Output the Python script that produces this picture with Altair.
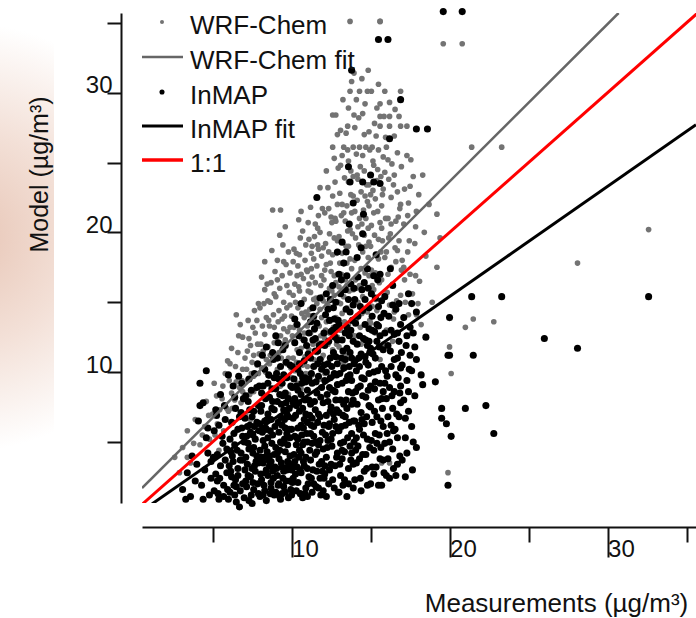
import altair as alt
import pandas as pd

# ---------------- data ----------------
# WRF-Chem points (measurement, model)
wrf_left = [(2.6,3.9),(2.9,2.8),(3.1,4.6),(3.4,5.8),(3.4,3.9),(3.6,3.5),(3.8,4.9),(3.9,6.6),
    (4.2,4.8),(4.5,6.1),(4.8,5.2),(5.0,7.0),(5.3,6.3),(5.6,8.1),(5.9,7.4),(4.6,7.9),(5.1,9.2),(5.4,4.4),(5.8,9.9),(4.9,3.6),(5.7,5.8),
    (6.0,7.2),(6.2,8.5),(6.3,6.4),(6.5,9.3),(6.6,11.4),(6.5,14.1),(6.2,11.7),(6.8,7.8),(6.9,10.2),(6.4,5.7),(6.7,8.9),(6.1,10.6),(6.9,12.5),
    (7.0,8.1),(7.2,9.4),(7.4,11.9),(7.5,10.7),(7.6,8.6),(7.7,12.8),(7.8,13.7),(7.9,14.9),(7.1,7.0),(7.3,12.4),(7.9,9.9),(7.6,11.2),(7.4,6.6),(7.8,10.5)]
wrf_left2 = [(4.35,5.5),(4.75,6.9),(5.15,5.5),(5.45,7.3),(5.65,9.0),(5.95,10.8),(5.25,8.3),
    (6.05,9.4),(6.25,7.4),(6.45,10.4),(6.65,12.6),(6.85,9.4),(7.05,11.0),(7.25,13.7),(7.45,9.9),(7.65,14.4),(7.85,12.0),(7.15,10.2),(7.55,13.2),(7.95,11.3),(6.75,13.4),(7.35,8.4)]
wrf_mid = [(8.0,9.0),(8.1,10.3),(8.2,11.5),(8.3,12.7),(8.4,13.9),(8.5,15.1),(8.3,17.9),(8.6,9.7),(8.7,16.4),(8.8,21.6),(8.9,12.1),(8.0,14.6),(8.2,8.4),(8.4,10.9),(8.6,13.3),(8.8,7.9),(8.9,15.6),(8.5,11.8),(8.1,16.8),
    (9.0,15.4),(9.3,21.6),(9.5,17.9),(9.6,20.4),(9.1,10.2),(9.2,11.4),(9.3,12.6),(9.4,13.8),(9.5,15.0),(9.6,9.6),(9.7,16.2),(9.8,11.0),(9.9,13.2),(9.0,8.9),(9.2,14.4),(9.4,16.9),(9.6,12.3),(9.8,18.6),(9.1,18.0),(9.7,10.6),(9.3,9.0),(9.9,14.8),(9.5,13.1),(9.8,8.4),
    (10.1,17.9),(10.6,21.5),(10.0,9.6),(10.1,11.0),(10.2,12.2),(10.3,13.4),(10.4,14.6),(10.5,15.8),(10.6,17.0),(10.7,10.5),(10.8,12.8),(10.9,19.1),(10.0,14.0),(10.2,16.3),(10.4,9.2),(10.6,11.7),(10.8,15.2),(10.3,18.5),(10.5,13.0),(10.7,20.1),(10.9,9.9),(10.1,15.5),(10.3,10.7),(10.9,14.3),(10.6,8.8),(10.4,17.6),
    (11.0,10.4),(11.1,11.6),(11.2,12.8),(11.3,14.0),(11.4,15.2),(11.5,16.4),(11.6,17.6),(11.7,18.8),(11.8,20.0),(11.9,11.0),(11.0,13.3),(11.2,15.7),(11.4,18.1),(11.6,12.2),(11.8,14.5),(11.1,19.5),(11.3,9.8),(11.5,13.6),(11.7,21.2),(11.9,16.9),(11.0,17.2),(11.4,10.9),(11.8,9.5),(11.6,14.9),(11.2,21.8),(11.9,18.3),(11.5,20.6),(11.3,16.8),(11.8,23.2)]
wrf_mid2 = [(8.05,12.0),(8.15,13.3),(8.25,14.9),(8.35,10.0),(8.45,16.3),(8.55,13.7),(8.65,11.2),(8.75,18.7),(8.85,14.1),(8.95,17.2),(9.05,12.5),(9.15,13.6),(9.25,16.0),(9.35,11.0),(9.45,19.1),(9.55,14.0),(9.65,17.7),(9.75,12.9),(9.85,15.7),(9.95,10.3),(9.25,19.8),(8.65,15.0),
    (10.05,12.6),(10.15,18.8),(10.25,15.0),(10.35,11.6),(10.45,16.1),(10.55,19.6),(10.65,14.2),(10.75,16.7),(10.85,11.1),(10.95,17.3),(11.05,15.8),(11.15,14.5),(11.25,18.5),(11.35,12.0),(11.45,19.7),(11.55,15.3),(11.65,20.3),(11.75,13.3),(11.85,16.2),(11.95,21.7),(11.05,20.7),(10.45,20.9)]
wrf_high = [(12.0,11.2),(12.1,12.4),(12.2,13.6),(12.3,14.8),(12.4,16.0),(12.5,17.2),(12.6,18.4),(12.7,19.6),(12.8,20.8),(12.9,22.0),(12.0,15.1),(12.2,17.7),(12.4,19.9),(12.6,11.6),(12.8,13.9),(12.1,21.4),(12.3,23.2),(12.5,10.4),(12.7,15.5),(12.9,17.0),(12.6,28.4),(12.8,28.4),(12.6,26.1),(12.0,18.9),(12.2,24.4),(12.8,16.4),(12.4,12.8),(12.6,22.6),(12.9,12.5),(12.1,9.9),(12.7,25.3),
    (13.0,11.8),(13.1,13.0),(13.2,14.2),(13.3,15.4),(13.4,16.6),(13.5,17.8),(13.6,19.0),(13.7,20.2),(13.8,21.4),(13.9,22.6),(13.0,16.1),(13.2,18.5),(13.4,20.8),(13.6,23.6),(13.8,12.7),(13.1,24.8),(13.3,26.1),(13.5,14.6),(13.7,30.1),(13.8,30.8),(13.7,35.1),(13.9,26.1),(13.0,19.7),(13.4,11.2),(13.6,25.1),(13.2,22.0),(13.8,17.4),(13.5,21.9),(13.1,27.3),(13.9,15.9),(13.3,10.6),(13.6,13.4),
    (14.0,12.6),(14.1,13.8),(14.2,15.0),(14.3,16.2),(14.4,17.4),(14.5,18.6),(14.6,19.8),(14.7,21.0),(14.8,22.2),(14.9,23.4),(14.0,18.0),(14.2,20.4),(14.4,22.9),(14.6,24.4),(14.8,14.3),(14.1,25.6),(14.3,26.1),(14.5,28.5),(14.3,30.1),(14.8,30.1),(14.7,26.1),(14.9,16.9),(14.0,21.5),(14.4,12.0),(14.6,27.0),(14.2,23.8),(14.9,19.3),(14.1,29.5),
    (15.0,13.5),(15.1,14.7),(15.2,15.9),(15.3,17.1),(15.4,18.3),(15.5,19.5),(15.6,20.7),(15.7,21.9),(15.8,23.1),(15.9,24.3),(15.0,19.0),(15.2,21.4),(15.4,23.7),(15.6,29.2),(15.6,28.3),(15.6,27.6),(15.6,35.1),(15.8,25.4),(15.1,26.1),(15.3,12.8),(15.5,25.9),(15.7,16.6),(15.9,18.2),(15.0,22.7),(15.4,14.4),(15.8,12.0),(15.2,24.8),(15.6,10.9)]
wrf_high2 = [(12.05,16.6),(12.15,19.2),(12.25,14.9),(12.35,21.7),(12.45,17.8),(12.55,20.7),(12.65,13.2),(12.75,23.6),(12.85,18.5),(12.95,15.0),(13.05,17.8),(13.15,21.2),(13.25,16.9),(13.35,23.9),(13.45,19.0),(13.55,25.9),(13.65,15.8),(13.75,22.7),(13.85,19.9),(13.95,28.4),(13.25,29.5),(13.55,27.6),(12.95,24.6),
    (14.05,16.6),(14.15,22.3),(14.25,19.1),(14.35,24.7),(14.45,14.2),(14.55,21.6),(14.65,17.1),(14.75,23.4),(14.85,20.3),(14.95,25.9),(15.05,17.3),(15.15,23.0),(15.25,19.8),(15.35,26.9),(15.45,21.5),(15.55,16.4),(15.65,24.0),(15.75,19.4),(15.85,28.3),(15.95,21.0),(14.45,31.0),(15.05,30.1),(14.65,29.2)]
wrf_band3 = [(9.1,16.6),(9.4,12.0),(9.7,14.6),(9.9,17.1),(10.2,10.1),(10.5,18.4),(10.8,13.9),(11.1,16.3),(11.3,19.0),(11.6,11.4),(11.9,13.9),(12.1,17.3),(12.3,12.0),(12.5,21.1),(12.7,16.9),(12.9,19.4),(13.1,14.9),(13.3,21.4),(13.5,16.2),(13.7,18.1),(13.9,24.0),(14.1,16.0),(14.3,21.0),(14.5,15.4),(14.7,19.0),(14.9,21.9),(15.1,16.2),(15.3,22.4),(15.5,18.1),(15.7,20.3),(15.9,15.5),(16.1,17.0),(16.3,20.6),(16.5,14.3),(16.7,18.7),(16.9,22.0),(17.1,17.5),(17.4,14.1),(8.6,10.6),(8.9,13.2),(8.3,15.9),(7.6,9.7),(7.2,11.5),(6.9,8.6),(6.4,8.0),(13.2,25.5),(14.0,27.5),(14.9,27.2),(15.4,28.9),(13.6,28.9),(16.0,26.1),(14.5,25.5),(12.9,27.0),(15.9,30.1)]
wrf_band4 = [(10.15,13.2),(10.35,16.9),(10.65,12.4),(10.85,18.0),(11.05,14.1),(11.25,17.4),(11.45,13.0),(11.65,19.1),(11.85,12.6),(11.95,15.4),(12.15,13.0),(12.35,18.6),(12.55,15.8),(12.75,21.0),(12.85,12.0),(13.05,22.8),(13.15,17.0),(13.35,13.6),(13.55,20.1),(13.75,24.4),(13.85,14.8),(14.05,19.6),(14.15,24.1),(14.35,13.2),(14.45,20.6),(14.65,22.6),(14.85,18.2),(14.95,13.7),(15.05,20.5),(15.15,25.1),(15.35,15.2),(15.45,24.5),(15.65,18.6),(15.75,22.7),(15.95,26.8),(16.15,19.6),(16.35,24.9),(16.45,13.8),(16.75,21.1),(16.95,17.3),(17.15,23.1),(17.35,18.6),(17.55,25.2),(17.65,15.6),(17.85,20.4),(18.05,22.7),(18.4,20.0),(18.0,14.9),(13.45,27.1),(14.25,28.2),(15.25,27.8),(16.55,28.8),(13.95,31.4),(14.85,31.6),(15.5,30.6)]
wrf_right = [(16.0,13.0),(16.2,14.8),(16.4,16.3),(16.6,17.9),(16.8,19.4),(16.1,21.0),(16.3,22.5),(16.5,24.1),(16.7,25.7),(16.2,29.3),(16.2,28.3),(16.2,27.6),(16.9,30.1),(16.8,28.3),(16.9,27.6),(16.0,18.6),(16.6,20.8),(16.4,12.2),(16.9,15.5),(16.1,25.2),(16.7,22.9),(16.5,26.9),(16.3,17.5),
    (16.05,15.7),(16.25,19.9),(16.45,23.4),(16.65,15.1),(16.85,21.7),(16.15,23.8),(16.55,18.9),(16.95,24.7),(17.15,16.6),(17.45,19.4),(17.85,16.9),(17.35,21.2),
    (17.3,27.6),(17.2,15.0),(17.5,17.0),(17.8,19.2),(17.1,20.6),(17.4,22.1),(17.7,24.0),(17.9,14.1),(17.6,12.8),(17.0,18.0),(17.3,25.5),(17.9,21.5),(17.5,23.3),
    (18.3,24.1),(18.7,22.0),(19.2,21.3),(18.5,18.3),(18.1,16.5),(18.9,15.0),(19.4,19.6),(18.2,13.4),(19.2,17.5),
    (21.0,13.2),(21.5,13.8),(22.8,13.6),(20.0,11.8),(20.1,9.9),(19.9,2.8),(15.7,3.5),(16.2,3.5)]
wrf_outliers = [(19.6,33.5),(20.8,33.5),(21.4,26.1),(23.3,26.1),(28.1,17.8),(32.6,20.2),(15.6,35.1)]

# InMAP points (measurement, model)
inmap_left = [(3.1,1.6),(3.4,2.8),(3.6,1.1),(3.7,4.0),(3.9,2.2),(4.0,3.4),(3.3,0.9),
    (4.1,6.5),(4.2,7.6),(4.4,7.8),(4.2,9.2),(4.6,10.1),(4.3,1.9),(4.5,3.0),(4.7,4.2),(4.8,1.2),(4.6,5.3),(4.9,2.4),(4.4,0.9),(4.9,3.6),(4.7,6.0),
    (5.1,1.5),(5.2,2.7),(5.3,4.1),(5.4,0.9),(5.5,3.3),(5.6,5.4),(5.7,1.9),(5.8,6.6),(5.9,2.8),(5.2,7.3),(5.5,8.4),(6.0,9.8),(5.9,4.5),(5.1,5.8),(5.7,1.1),(5.4,6.2),(5.8,3.7),(5.3,2.2),
    (6.1,1.4),(6.2,2.5),(6.3,3.6),(6.4,4.8),(6.5,0.7),(6.6,5.9),(6.7,0.35),(6.8,7.1),(6.9,2.0),(6.2,6.4),(6.4,8.2),(6.6,3.1),(6.8,4.2),(6.1,5.2),(6.5,1.8),(6.7,6.8),(6.3,9.0),(6.9,3.7),(6.0,0.9),(6.6,2.6),(6.9,5.4),(6.4,1.2),
    (7.0,1.0),(7.1,2.2),(7.2,3.4),(7.3,4.5),(7.4,5.7),(7.5,6.8),(7.6,1.6),(7.7,2.9),(7.8,4.0),(7.9,7.6),(7.1,8.3),(7.3,0.8),(7.5,3.1),(7.7,5.2),(7.9,1.3),(7.2,6.1),(7.4,2.5),(7.6,4.6),(7.8,8.9),(7.0,5.0),(7.3,9.5),(7.9,3.5),(7.5,0.6),(7.6,7.2),(7.1,3.9),(7.8,6.4)]
inmap_left2 = [(5.05,3.9),(5.35,1.3),(5.65,4.9),(5.95,1.6),(5.25,6.9),(5.75,7.6),(5.45,2.4),
    (6.05,3.3),(6.25,4.0),(6.35,1.9),(6.45,7.4),(6.55,4.4),(6.75,1.5),(6.85,6.0),(6.95,8.1),(6.15,2.9),(6.65,9.7),(6.35,5.6),
    (7.05,6.7),(7.15,1.8),(7.25,4.9),(7.35,7.3),(7.45,1.2),(7.55,4.2),(7.65,9.9),(7.75,3.6),(7.85,2.0),(7.95,5.8),(7.25,2.6),(7.45,8.7),(7.65,6.1),(7.85,10.6),(7.15,5.4),(7.55,2.1)]
inmap_mid = [(8.0,1.1),(8.1,2.3),(8.2,3.5),(8.3,4.7),(8.4,5.9),(8.5,7.0),(8.6,8.2),(8.7,1.7),(8.8,2.9),(8.9,4.1),(8.0,6.3),(8.2,9.0),(8.4,0.8),(8.6,3.3),(8.8,5.5),(8.1,7.6),(8.3,1.5),(8.5,2.6),(8.7,6.6),(8.9,9.6),(8.0,4.4),(8.2,5.1),(8.4,3.0),(8.6,4.0),(8.8,7.9),(8.9,1.2),(8.3,10.2),(8.5,5.3),(8.7,2.1),(8.1,8.5),
    (9.0,1.4),(9.1,2.6),(9.2,3.8),(9.3,5.0),(9.4,6.2),(9.5,7.3),(9.6,8.5),(9.7,9.6),(9.8,1.0),(9.9,2.2),(9.0,4.6),(9.2,5.7),(9.4,3.2),(9.6,4.3),(9.8,6.8),(9.1,7.9),(9.3,10.4),(9.5,1.8),(9.7,3.0),(9.9,5.3),(9.0,8.8),(9.2,2.0),(9.4,4.9),(9.6,6.0),(9.8,8.1),(9.1,11.0),(9.3,0.9),(9.5,2.9),(9.7,7.0),(9.9,4.0),(9.4,9.2),(9.6,1.4),
    (10.0,1.2),(10.1,2.4),(10.2,3.6),(10.3,4.8),(10.4,6.0),(10.5,7.2),(10.6,8.4),(10.7,9.6),(10.8,10.8),(10.9,1.7),(10.0,3.0),(10.2,5.4),(10.4,2.1),(10.6,4.2),(10.8,6.6),(10.1,7.8),(10.3,9.0),(10.5,11.4),(10.7,1.0),(10.9,3.9),(10.0,5.9),(10.2,8.1),(10.4,10.2),(10.6,2.8),(10.8,5.0),(10.1,6.7),(10.3,1.5),(10.5,4.4),(10.7,7.4),(10.9,9.3),(10.2,12.1),(10.6,6.2),(10.8,3.3),(10.4,8.7),
    (11.0,1.1),(11.1,2.5),(11.2,3.7),(11.3,4.9),(11.4,6.1),(11.5,7.3),(11.6,8.5),(11.7,9.7),(11.8,10.9),(11.9,12.0),(11.0,3.1),(11.2,5.6),(11.4,2.0),(11.6,4.3),(11.8,6.8),(11.1,8.0),(11.3,9.2),(11.5,11.5),(11.7,1.7),(11.9,3.6),(11.0,6.4),(11.2,7.7),(11.4,10.4),(11.6,2.9),(11.8,5.1),(11.1,12.8),(11.3,1.4),(11.5,4.1),(11.7,7.0),(11.9,8.9),(11.6,22.5),(11.2,13.6),(11.4,5.4),(11.8,2.4)]
inmap_mid2 = [(8.05,2.7),(8.15,5.7),(8.25,1.9),(8.35,8.1),(8.45,4.3),(8.55,9.8),(8.65,1.3),(8.75,4.9),(8.85,10.9),(8.95,3.2),(8.05,7.2),(8.25,3.9),(8.45,6.6),(8.65,5.8),(8.85,2.4),(8.15,11.2),(8.35,2.8),(8.55,3.7),(8.75,8.8),(8.95,6.1),
    (9.05,3.1),(9.15,6.4),(9.25,1.1),(9.35,7.7),(9.45,2.4),(9.55,5.2),(9.65,10.7),(9.75,3.6),(9.85,7.4),(9.95,1.6),(9.05,9.9),(9.25,4.4),(9.45,8.3),(9.65,2.2),(9.85,5.9),(9.15,12.1),(9.35,3.5),(9.55,6.6),(9.75,4.8),(9.95,9.0),(9.45,11.6),(9.15,1.9),
    (10.05,2.1),(10.15,4.1),(10.25,6.9),(10.35,3.2),(10.45,7.8),(10.55,1.3),(10.65,5.5),(10.75,3.6),(10.85,8.0),(10.95,5.6),(10.05,10.4),(10.25,2.7),(10.45,12.6),(10.65,9.2),(10.85,1.3),(10.15,9.5),(10.35,5.3),(10.55,3.0),(10.75,6.0),(10.95,11.9),(10.55,9.9),(10.35,13.4),
    (11.05,2.0),(11.15,4.4),(11.25,9.9),(11.35,3.0),(11.45,7.9),(11.55,1.8),(11.65,6.4),(11.75,3.4),(11.85,8.2),(11.95,5.7),(11.05,11.3),(11.25,2.4),(11.45,13.1),(11.65,10.6),(11.85,1.2),(11.15,6.9),(11.35,12.3),(11.55,5.0),(11.75,11.9),(11.95,2.9),(11.55,9.3),(11.35,14.6)]
inmap_high = [(12.0,1.5),(12.1,2.7),(12.2,3.9),(12.3,5.1),(12.4,6.3),(12.5,7.5),(12.6,8.7),(12.7,9.9),(12.8,11.1),(12.9,12.3),(12.0,4.5),(12.2,6.9),(12.4,3.0),(12.6,5.6),(12.8,8.0),(12.1,9.4),(12.3,10.6),(12.5,12.9),(12.7,1.7),(12.9,4.2),(12.0,7.8),(12.2,10.0),(12.4,13.7),(12.6,2.3),(12.8,6.1),(12.1,11.9),(12.3,14.5),(12.5,3.4),(12.7,6.6),(12.9,9.1),(12.6,16.2),(12.2,1.1),(12.8,13.2),
    (13.0,1.4),(13.1,2.6),(13.2,3.8),(13.3,5.0),(13.4,6.2),(13.5,7.4),(13.6,8.6),(13.7,9.8),(13.8,11.0),(13.9,12.2),(13.0,13.4),(13.2,4.4),(13.4,6.8),(13.6,3.1),(13.8,5.6),(13.1,8.0),(13.3,10.3),(13.5,11.7),(13.7,14.3),(13.9,1.7),(13.0,7.1),(13.2,9.2),(13.4,12.8),(13.6,2.0),(13.8,7.7),(13.1,15.6),(13.3,17.8),(13.5,1.1),(13.7,4.7),(13.9,3.4),(13.9,22.1),(13.9,6.5),(13.4,10.9),(13.8,9.4),(13.2,19.3),
    (14.0,2.3),(14.1,3.5),(14.2,4.7),(14.3,5.9),(14.4,7.1),(14.5,8.3),(14.6,9.5),(14.7,10.7),(14.8,11.9),(14.9,13.1),(14.0,6.5),(14.2,8.9),(14.4,11.3),(14.6,2.9),(14.8,5.2),(14.1,10.1),(14.3,12.6),(14.5,14.4),(14.7,4.1),(14.9,7.6),(14.0,15.2),(14.5,19.9),(14.2,16.8),(14.8,1.9),(14.4,1.5),(14.6,6.3),(14.9,9.9),(14.3,3.8),(14.7,12.3),
    (15.0,2.0),(15.1,3.2),(15.2,4.4),(15.3,5.6),(15.4,6.8),(15.5,8.0),(15.6,9.2),(15.7,10.4),(15.8,11.6),(15.9,12.8),(15.0,7.5),(15.2,10.0),(15.4,12.2),(15.6,3.8),(15.8,6.1),(15.1,14.0),(15.3,15.3),(15.5,1.9),(15.7,1.9),(15.9,4.9),(15.0,9.0),(15.4,13.4),(15.6,17.0),(15.2,2.7),(15.8,8.6)]
inmap_high2 = [(12.05,2.4),(12.15,5.5),(12.25,8.4),(12.35,2.0),(12.45,9.6),(12.55,4.7),(12.65,11.4),(12.75,3.3),(12.85,7.3),(12.95,1.4),(12.05,12.8),(12.25,4.6),(12.45,11.0),(12.65,7.0),(12.85,3.9),(12.15,14.1),(12.35,6.1),(12.55,10.4),(12.75,12.5),(12.95,5.8),(12.45,15.2),(12.75,8.6),
    (13.05,3.4),(13.15,6.1),(13.25,11.5),(13.35,2.3),(13.45,8.0),(13.55,5.3),(13.65,12.6),(13.75,3.7),(13.85,8.5),(13.95,10.6),(13.05,9.9),(13.25,1.9),(13.45,14.5),(13.65,6.4),(13.85,13.7),(13.15,11.0),(13.35,4.3),(13.55,9.7),(13.75,16.3),(13.95,5.0),(13.45,18.6),(13.65,20.6),
    (14.05,4.4),(14.15,7.7),(14.25,11.0),(14.35,2.4),(14.45,9.6),(14.55,5.5),(14.65,13.4),(14.75,3.1),(14.85,8.7),(14.95,4.6),(14.05,13.5),(14.25,6.2),(14.45,15.9),(14.65,11.1),(14.85,16.0),(14.15,18.2),(14.35,9.0),(14.55,12.4),(14.75,6.8),(14.95,11.4),(14.55,21.3),
    (15.05,5.1),(15.15,11.3),(15.25,7.2),(15.35,3.2),(15.45,10.1),(15.55,5.5),(15.65,13.9),(15.75,7.4),(15.85,2.8),(15.95,10.1),(15.05,15.6),(15.25,12.9),(15.45,16.6),(15.65,4.6),(15.85,14.2),(15.35,18.4),(15.55,11.8)]
inmap_core3 = [(6.15,4.3),(6.45,2.3),(6.75,3.7),(7.05,3.0),(7.35,6.2),(7.65,3.3),(7.95,9.0),(7.25,7.9),(6.85,9.2),(7.55,5.5),
    (8.1,3.9),(8.3,6.5),(8.5,9.2),(8.7,3.6),(8.9,7.3),(9.1,4.2),(9.3,6.8),(9.5,9.8),(9.7,5.6),(9.9,10.5),(8.2,1.2),(8.8,11.4),(9.4,1.3),(9.0,12.6),(9.6,11.9),(8.4,11.8),(9.2,9.5),(9.8,3.3),
    (10.1,3.4),(10.3,7.6),(10.5,10.6),(10.7,4.8),(10.9,7.0),(11.1,9.5),(11.3,6.7),(11.5,12.4),(11.7,4.8),(11.9,10.2),(10.2,13.8),(10.8,12.3),(11.4,14.0),(11.0,5.0),(11.6,13.5),(10.6,14.9),(11.2,11.0),(11.8,15.3),(10.4,5.2),(11.0,8.7),
    (12.1,3.3),(12.3,7.9),(12.5,5.2),(12.7,13.8),(12.9,10.6),(13.1,4.9),(13.3,7.7),(13.5,13.2),(13.7,11.4),(13.9,8.0),(12.2,15.6),(12.8,15.0),(13.4,15.9),(13.0,17.0),(13.6,15.2),(12.4,8.9),(13.2,12.3),(13.8,4.2),(12.6,13.0),(13.0,5.8),(13.9,14.8),(12.9,18.6),(13.5,16.9),
    (14.1,5.3),(14.3,10.4),(14.5,4.1),(14.7,8.2),(14.9,14.6),(15.1,6.4),(15.3,9.3),(15.5,14.7),(15.7,8.1),(15.9,15.4),(14.2,14.0),(14.8,17.4),(15.4,4.9),(15.0,11.7),(15.6,12.6),(14.4,18.9),(15.2,16.9),(15.8,3.7),(14.6,16.4),(14.0,10.8),
    (16.1,6.8),(16.3,13.0),(16.5,10.9),(16.7,5.3),(16.9,7.8),(16.2,8.9),(16.8,14.9),(17.0,10.5),(17.4,8.6),(17.8,11.8),(16.6,2.6),(17.2,6.7)]
inmap_core4 = [(12.05,10.5),(12.35,12.2),(12.65,14.6),(12.95,13.7),(13.15,16.6),(13.45,9.4),(13.75,13.0),(13.95,16.0),(14.15,12.0),(14.35,14.7),(14.65,15.2),(14.9,12.2),(15.1,13.0),(15.3,11.0),(15.5,13.3),(15.7,15.1),(15.9,9.2),(16.1,11.9),(16.4,14.8),(16.7,12.8),(16.9,10.3),(17.3,12.6),(17.6,14.9),
    (8.35,6.0),(8.75,7.4),(9.25,8.4),(9.65,7.8),(10.05,8.9),(10.45,3.9),(10.85,9.6),(11.25,6.2),(11.65,11.5),(12.05,6.2),(12.45,7.2),(12.85,9.8),(13.25,6.9),(13.65,10.4),(14.05,8.6),(14.45,6.6),(14.85,10.5),(15.25,8.8),(15.65,6.5),(16.05,9.7),(16.45,5.8),(16.85,8.5),(17.45,10.2)]
inmap_right = [(16.0,2.6),(16.1,3.8),(16.2,5.0),(16.3,6.2),(16.4,7.4),(16.5,8.6),(16.6,9.8),(16.7,11.0),(16.8,12.2),(16.9,13.4),(16.2,2.4),(16.4,4.5),(16.6,14.5),(16.8,6.8),(16.3,10.4),(16.5,12.7),(16.0,8.1),(16.7,3.4),(16.9,9.0),(16.4,16.2),
    (16.05,5.6),(16.25,11.5),(16.45,3.1),(16.65,7.0),(16.85,4.0),(16.15,14.0),(16.35,8.3),(16.55,5.9),(16.75,9.6),(16.95,11.4),(16.25,17.4),
    (17.0,3.7),(17.2,5.3),(17.4,7.2),(17.6,6.1),(17.9,4.6),(17.3,9.4),(17.5,11.2),(17.7,12.8),(17.1,13.9),(17.8,8.3),(17.2,2.5),(17.6,10.1),(17.9,14.3),(17.4,15.6),
    (17.1,8.0),(17.3,4.2),(17.5,13.2),(17.7,5.0),(17.9,10.9),(17.25,11.9),(17.65,3.0),
    (18.2,9.8),(18.3,9.1),(19.1,9.3),(19.5,7.4),(19.5,6.7),(19.8,6.3),(20.1,5.4),(18.5,12.5),(20.0,13.9),(20.0,11.2),(19.9,11.2),(21.5,11.2),(21.0,7.4),(22.3,7.6),(22.8,5.6),(19.9,1.9),
    (13.6,24.7),(15.0,24.1),(15.6,23.5),(13.7,23.6),(14.5,23.6),(15.2,23.6),(16.2,26.7),(16.9,29.5),(13.8,31.6)]
inmap_outliers = [(21.4,15.4),(23.3,15.4),(26.0,12.4),(28.1,11.7),(32.6,15.4),(19.6,35.8),(20.8,35.8),(15.5,33.8),(16.1,33.8),(17.9,27.4),(18.6,27.4)]

# fit lines and 1:1 line, end points
wrf_fit_x = [0.53, 30.7]
wrf_fit_y = [1.7, 35.7]
inmap_fit_x = [1.16, 35.6]
inmap_fit_y = [0.56, 27.7]
one_x = [0.0, 36.0]
one_y = [0.0, 36.0]

legend_labels = ["WRF-Chem", "WRF-Chem fit", "InMAP", "InMAP fit", "1:1"]
x_title = "Measurements (µg/m³)"
y_title = "Model (µg/m³)"

# ---------------- chart ----------------
FONT = "Liberation Sans"
GRAY_PT = "#737373"
GRAY_LN = "#666666"
TXT = "#111111"

def pts(lists):
    rows = []
    for l in lists:
        rows.extend(l)
    return pd.DataFrame(rows, columns=["x", "y"])

wrf_df = pts([wrf_left, wrf_left2, wrf_mid, wrf_mid2, wrf_high, wrf_high2, wrf_band3, wrf_band4, wrf_right, wrf_outliers])
inmap_df = pts([inmap_left, inmap_left2, inmap_mid, inmap_mid2, inmap_high, inmap_high2, inmap_core3, inmap_core4, inmap_right, inmap_outliers])

xscale = alt.Scale(domain=[0.53, 35.6], nice=False, zero=False)
yscale = alt.Scale(domain=[0.63, 35.7], nice=False, zero=False)

y_axis = alt.Axis(orient="left", offset=21, values=[5, 10, 15, 20, 25, 30, 35], zindex=1,
                  labelExpr="datum.value % 10 === 0 ? datum.label : ''",
                  grid=False, domainColor=TXT, domainWidth=2, tickColor=TXT, tickWidth=2,
                  tickSize=14, labelFontSize=24, labelFont=FONT, labelColor=TXT,
                  labelAlign="right", labelBaseline="alphabetic", labelPadding=-5,
                  title=y_title, titleFont=FONT, titleFontSize=25, titleFontWeight="normal",
                  titleColor=TXT, titleAngle=270, titleAlign="center", titleBaseline="middle",
                  titleX=-82, titleY=161)

x_minor_axis = alt.Axis(orient="bottom", offset=24, values=[5, 15, 25, 35], labels=False,
                        grid=False, domainColor=TXT, domainWidth=2, tickColor=TXT,
                        tickWidth=2, tickSize=15, title="", zindex=1)
x_major_axis = alt.Axis(orient="bottom", offset=24, values=[10, 20, 30], domain=False,
                        grid=False, tickColor=TXT, tickWidth=2, tickSize=30, zindex=1,
                        labelFontSize=24, labelFont=FONT, labelColor=TXT, labelAlign="left",
                        labelBaseline="alphabetic", labelPadding=-1,
                        title=x_title, titleFont=FONT, titleFontSize=26, titleFontWeight="normal",
                        titleColor=TXT, titleAlign="center", titleBaseline="middle",
                        titleX=414, titleY=76)

smear_df = pd.DataFrame({"k": [0]})
smear = alt.Chart(smear_df).mark_rect(
    color={"gradient": "radial", "x1": 0.38, "y1": 0.42, "r1": 0.0,
           "x2": 0.38, "y2": 0.42, "r2": 0.42,
           "stops": [{"offset": 0.0, "color": "#e7c5b5"},
                     {"offset": 0.5, "color": "#f3e0d7"},
                     {"offset": 1.0, "color": "#ffffff"}]}
).encode(x=alt.value(-142), x2=alt.value(-88), y=alt.value(10), y2=alt.value(520))

gray_pts = alt.Chart(wrf_df).mark_circle(size=32, color=GRAY_PT, opacity=1).encode(
    x=alt.X("x:Q", scale=xscale, axis=x_minor_axis),
    y=alt.Y("y:Q", scale=yscale, axis=y_axis))

black_pts = alt.Chart(inmap_df).mark_circle(size=50, color="#000000", opacity=1).encode(
    x=alt.X("x:Q", scale=xscale, axis=x_major_axis),
    y=alt.Y("y:Q", scale=yscale, axis=y_axis))

def line(xs, ys, color, width):
    df = pd.DataFrame({"x": xs, "y": ys})
    return alt.Chart(df).mark_line(color=color, strokeWidth=width, clip=True).encode(
        x=alt.X("x:Q", scale=xscale, axis=None),
        y=alt.Y("y:Q", scale=yscale, axis=y_axis))

wrf_line = line(wrf_fit_x, wrf_fit_y, GRAY_LN, 2.5)
inmap_line = line(inmap_fit_x, inmap_fit_y, "#000000", 3)
one_line = line(one_x, one_y, "#ff0000", 3)

# legend (top-left, inside plot)
row_y = [9, 44, 79, 113, 147]
kinds = [("dot", GRAY_PT, 16), ("line", GRAY_LN, 2.5), ("dot", "#000000", 26),
         ("line", "#000000", 3), ("line", "#ff0000", 3.5)]
legend_layers = []
for lab, ry, (kind, col, sz) in zip(legend_labels, row_y, kinds):
    d = pd.DataFrame({"label": [lab]})
    if kind == "dot":
        legend_layers.append(alt.Chart(d).mark_circle(size=sz, color=col, opacity=1).encode(
            x=alt.value(20), y=alt.value(ry)))
    else:
        legend_layers.append(alt.Chart(d).mark_rule(color=col, strokeWidth=sz).encode(
            x=alt.value(0), x2=alt.value(41), y=alt.value(ry)))
    legend_layers.append(alt.Chart(d).mark_text(align="left", baseline="alphabetic",
                                                 fontSize=26, font=FONT, color=TXT).encode(
        x=alt.value(48), y=alt.value(ry + 11.5), text="label:N"))

chart = alt.layer(smear, gray_pts, black_pts, wrf_line, inmap_line, one_line, *legend_layers
).resolve_axis(x="independent").properties(
    width=554, height=490,
    padding={"left": 142, "top": 13, "right": 0, "bottom": 115},
    autosize=alt.AutoSizeParams(type="none"),
    background="white"
).configure_view(strokeWidth=0)

chart.save("out.html", embed_options={"renderer": "svg", "actions": False})
